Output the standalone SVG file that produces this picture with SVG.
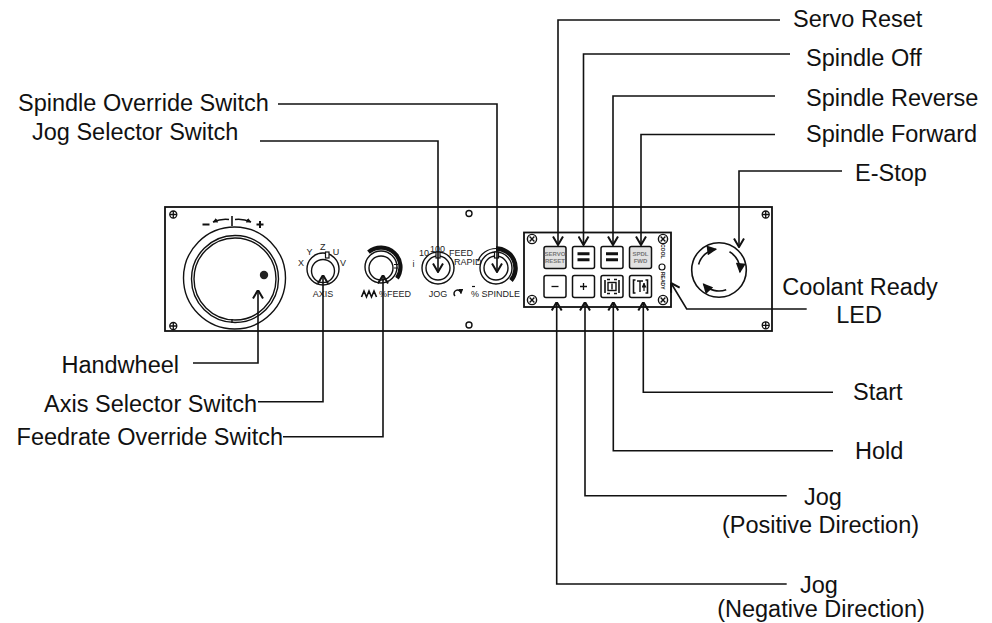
<svg xmlns="http://www.w3.org/2000/svg" width="992" height="623" viewBox="0 0 992 623">
<style>
.lbl{font-family:"Liberation Sans",Arial,sans-serif;font-size:23.5px;fill:#111}
.sm{font-family:"Liberation Sans",Arial,sans-serif;font-size:9px;fill:#222}
.tiny{font-family:"Liberation Sans",Arial,sans-serif;font-size:6px;fill:#777;font-weight:bold}
.vt{font-family:"Liberation Sans",Arial,sans-serif;font-size:5px;fill:#111;font-weight:bold}
.ln{fill:none;stroke:#111;stroke-width:1.6}
.th{fill:none;stroke:#111;stroke-width:1.4}
.btn{fill:#fff;stroke:#111;stroke-width:1.5}
.gbtn{fill:#e2e2e2;stroke:#111;stroke-width:1.5}
</style>
<defs>
<marker id="v" viewBox="0 0 10 12" refX="9.5" refY="6" markerWidth="10" markerHeight="12" markerUnits="userSpaceOnUse" orient="auto">
<path d="M1,1 L9.5,6 L1,11" fill="none" stroke="#111" stroke-width="2"/>
</marker>
<marker id="tri" viewBox="0 0 10 10" refX="9" refY="5" markerWidth="11" markerHeight="10" markerUnits="userSpaceOnUse" orient="auto">
<path d="M0,0 L10,5 L0,10 Z" fill="#111"/>
</marker>
<marker id="sv" viewBox="0 0 10 10" refX="9" refY="5" markerWidth="5" markerHeight="5" markerUnits="userSpaceOnUse" orient="auto">
<path d="M0,0 L10,5 L0,10 Z" fill="#111"/>
</marker>
<g id="screw"><circle r="3.5" fill="#fff" stroke="#111" stroke-width="1.3"/><path d="M-3.5,0H3.5M0,-3.5V3.5" stroke="#111" stroke-width="1.3"/></g>
<g id="xscrew"><circle r="4.6" fill="#fff" stroke="#111" stroke-width="1.4"/><path d="M-2.4,-2.4L2.4,2.4M-2.4,2.4L2.4,-2.4" stroke="#111" stroke-width="1.4"/></g>
</defs>

<g id="panel">
<rect x="165" y="207" width="607" height="124" fill="#fff" stroke="#111" stroke-width="1.8"/>
<use href="#screw" x="173.3" y="214.5"/>
<use href="#screw" x="173.3" y="326"/>
<use href="#screw" x="765.7" y="214.5"/>
<use href="#screw" x="765.7" y="325.3"/>
<circle cx="469" cy="213.5" r="3" class="th" stroke-width="1.6"/>
<circle cx="469" cy="325" r="3" class="th" stroke-width="1.6"/>
</g>

<g id="handwheel">
<circle cx="234.5" cy="278" r="51" class="th"/>
<circle cx="235" cy="279" r="43.5" class="th"/>
<circle cx="235" cy="279" r="41" class="th"/>
<circle cx="264" cy="275" r="4.2" fill="#222"/>
<path d="M232,216V226" class="ln"/>
<path d="M232,319V323" class="th"/>
<path d="M229,219.5 Q221,218.5 213,222" class="ln" marker-end="url(#sv)"/>
<path d="M235,219.5 Q243,218.5 251,222" class="ln" marker-end="url(#sv)"/>
<path d="M202.5,224.5H209.5M256.5,224.5H263.5M260,221V228" stroke="#111" stroke-width="2"/>
</g>

<g id="axis-selector">
<circle cx="323" cy="269" r="16" class="th"/>
<circle cx="323" cy="271" r="11.5" class="th"/>
<rect x="325.5" y="252" width="3.5" height="6" fill="#fff" stroke="#111" stroke-width="1.2"/>
<text class="sm" x="301" y="266" text-anchor="middle">X</text>
<text class="sm" x="309.5" y="254.5" text-anchor="middle">Y</text>
<text class="sm" x="322.7" y="250" text-anchor="middle">Z</text>
<text class="sm" x="336" y="254.5" text-anchor="middle">U</text>
<text class="sm" x="343" y="266" text-anchor="middle">V</text>
<text class="sm" x="323" y="297" text-anchor="middle">AXIS</text>
</g>

<g id="feedrate-override">
<circle cx="381" cy="267" r="16" class="th"/>
<circle cx="381" cy="268" r="12" class="th"/>
<path d="M368.5,252.1 A19.5,19.5 0 0 1 397,278.2" fill="none" stroke="#111" stroke-width="4.2"/>
<path d="M394,264.5H398M394,268H398" stroke="#111" stroke-width="1.2"/>
<path d="M361.5,297 L364,291 L366.5,297 L369,291 L371.5,297 L374,291 L376.5,297" fill="none" stroke="#111" stroke-width="1.6"/>
<text class="sm" x="379" y="297">%FEED</text>
</g>

<g id="jog-selector">
<circle cx="438" cy="268" r="16" class="th"/>
<circle cx="438" cy="268" r="12" class="th"/>
<rect x="436" y="252" width="4" height="6" fill="#fff" stroke="#111" stroke-width="1.2"/>
<text class="sm" x="419" y="255.5">10</text>
<text class="sm" x="430" y="252">100</text>
<text class="sm" x="449" y="255.5">FEED</text>
<text class="sm" x="454" y="265">RAPID</text>
<text class="sm" x="412.5" y="267">i</text>
<text class="sm" x="438" y="297" text-anchor="middle">JOG</text>
<path d="M455,296 A3.5,3.5 0 1 1 461,293.5" fill="none" stroke="#111" stroke-width="1.5" marker-end="url(#sv)"/>
</g>

<g id="spindle-override">
<path d="M477.7,261.3 A19.5,19.5 0 0 1 496,248.5" fill="none" stroke="#111" stroke-width="1.2"/>
<path d="M496,248.5 A19.5,19.5 0 0 1 511,280.5" fill="none" stroke="#111" stroke-width="4.5"/>
<circle cx="496" cy="268" r="16" class="th"/>
<circle cx="496" cy="268" r="12" class="th"/>
<rect x="494.5" y="252" width="4" height="6" fill="#fff" stroke="#111" stroke-width="1.2"/>
<path d="M472,286.5H475" stroke="#111" stroke-width="1.2"/>
<text class="sm" x="471" y="297">% SPINDLE</text>
</g>

<g id="button-panel">
<rect x="524" y="232.5" width="147" height="74.5" fill="#fff" stroke="#111" stroke-width="1.8"/>
<use href="#xscrew" x="532" y="239"/>
<use href="#xscrew" x="532" y="300"/>
<use href="#xscrew" x="663" y="239"/>
<use href="#xscrew" x="663" y="300"/>
<text class="vt" transform="translate(660.5,244) rotate(90)">COOL</text>
<circle cx="662" cy="267" r="3" fill="#fff" stroke="#111" stroke-width="1.2"/>
<text class="vt" transform="translate(660.5,272) rotate(90)">READY</text>
</g>

<g id="btn-servo-reset">
<rect x="544" y="246.5" width="22" height="22" rx="2" class="gbtn"/>
<text class="tiny" x="555" y="256" text-anchor="middle">SERVO</text>
<text class="tiny" x="555" y="263" text-anchor="middle">RESET</text>
</g>
<g id="btn-spindle-off">
<rect x="572.5" y="246.5" width="22" height="22" rx="2" class="btn"/>
<path d="M577.5,253.7H589.5M577.5,259.8H589.5" stroke="#111" stroke-width="3"/>
</g>
<g id="btn-spindle-reverse">
<rect x="601" y="246.5" width="22" height="22" rx="2" class="btn"/>
<path d="M606,253.7H618M606,259.8H618" stroke="#111" stroke-width="3"/>
</g>
<g id="btn-spindle-forward">
<rect x="629.5" y="246.5" width="22" height="22" rx="2" class="gbtn"/>
<text class="tiny" x="640.5" y="256" text-anchor="middle">SPDL</text>
<text class="tiny" x="640.5" y="263" text-anchor="middle">FWD</text>
</g>
<g id="btn-jog-negative">
<rect x="544" y="275.5" width="22" height="22" rx="2" class="btn"/>
<path d="M551.5,286.5H558.5" stroke="#111" stroke-width="1.3"/>
</g>
<g id="btn-jog-positive">
<rect x="572.5" y="275.5" width="22" height="22" rx="2" class="btn"/>
<path d="M580,286.5H587M583.5,283V290" stroke="#111" stroke-width="1.3"/>
</g>
<g id="btn-hold">
<rect x="601" y="275.5" width="22" height="22" rx="2" class="btn"/>
<rect x="608" y="282.5" width="8" height="8" fill="none" stroke="#111" stroke-width="1.4"/>
<path d="M612,283.5V289.5" stroke="#111" stroke-width="1.4"/>
<path d="M605,280V293M619,280V293M607,279.5H610M614,279.5H617M607,293.5H610M614,293.5H617" stroke="#111" stroke-width="1.6"/>
</g>
<g id="btn-start">
<rect x="629.5" y="275.5" width="22" height="22" rx="2" class="btn"/>
<path d="M635.5,280H633.5V293H635.5M645.5,280H647.5V293H645.5" fill="none" stroke="#111" stroke-width="1.6"/>
<path d="M637,281H643M640,281V292" stroke="#111" stroke-width="1.4"/>
<path d="M644,291V283" stroke="#111" stroke-width="1.2" marker-end="url(#sv)"/>
</g>

<g id="estop">
<circle cx="719" cy="270" r="27.3" fill="#fff" stroke="#111" stroke-width="1.6"/>
<path d="M698.6,264.5 A21,21 0 0 1 716.1,249.2" fill="none" stroke="#111" stroke-width="1.6" marker-end="url(#tri)"/>
<path d="M729.5,251.8 A21,21 0 0 1 739.9,272.2" fill="none" stroke="#111" stroke-width="1.6" marker-end="url(#tri)"/>
<path d="M726.2,289.7 A21,21 0 0 1 703.4,284.1" fill="none" stroke="#111" stroke-width="1.6" marker-end="url(#tri)"/>
</g>

<g id="connectors">
<path d="M278,104H497V272" class="ln" marker-end="url(#v)"/>
<path d="M260,141H438V272" class="ln" marker-end="url(#v)"/>
<path d="M193,363H258V290" class="ln" marker-end="url(#v)"/>
<path d="M258,401.7H323V275" class="ln" marker-end="url(#v)"/>
<path d="M283,436.7H383V275" class="ln" marker-end="url(#v)"/>
<path d="M780,20H558V245" class="ln" marker-end="url(#v)"/>
<path d="M790,54H583.5V245" class="ln" marker-end="url(#v)"/>
<path d="M775,96H613V245" class="ln" marker-end="url(#v)"/>
<path d="M775,134.5H641V245" class="ln" marker-end="url(#v)"/>
<path d="M842,171H739V247" class="ln" marker-end="url(#v)"/>
<path d="M806.7,309H686.7L671,283" class="ln" marker-end="url(#v)"/>
<path d="M833,392.3H643.3V302" class="ln" marker-end="url(#v)"/>
<path d="M833,450.7H613.3V302" class="ln" marker-end="url(#v)"/>
<path d="M786.7,495.7H585V302" class="ln" marker-end="url(#v)"/>
<path d="M786.7,584H556.7V302" class="ln" marker-end="url(#v)"/>
</g>

<g id="labels">
<text class="lbl" x="18" y="111">Spindle Override Switch</text>
<text class="lbl" x="32" y="140">Jog Selector Switch</text>
<text class="lbl" x="179" y="373" text-anchor="end">Handwheel</text>
<text class="lbl" x="257" y="412" text-anchor="end">Axis Selector Switch</text>
<text class="lbl" x="283" y="445" text-anchor="end">Feedrate Override Switch</text>
<text class="lbl" x="793" y="27">Servo Reset</text>
<text class="lbl" x="806" y="66">Spindle Off</text>
<text class="lbl" x="806" y="106">Spindle Reverse</text>
<text class="lbl" x="806" y="142">Spindle Forward</text>
<text class="lbl" x="855" y="181">E-Stop</text>
<text class="lbl" x="860" y="295" text-anchor="middle">Coolant Ready</text>
<text class="lbl" x="859" y="323" text-anchor="middle">LED</text>
<text class="lbl" x="853" y="400">Start</text>
<text class="lbl" x="855" y="459">Hold</text>
<text class="lbl" x="823" y="505" text-anchor="middle">Jog</text>
<text class="lbl" x="820.5" y="533" text-anchor="middle">(Positive Direction)</text>
<text class="lbl" x="819" y="593" text-anchor="middle">Jog</text>
<text class="lbl" x="821" y="617" text-anchor="middle">(Negative Direction)</text>
</g>
</svg>
